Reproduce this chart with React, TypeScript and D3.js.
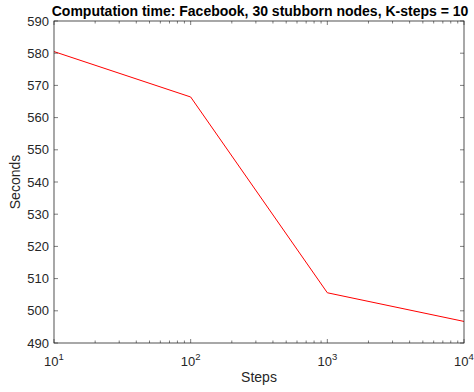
import React from "react";
import * as d3 from "d3";

const steps = [10, 100, 1000, 10000];
const seconds = [580.5, 566.4, 505.6, 496.7];
const yTicks = [490, 500, 510, 520, 530, 540, 550, 560, 570, 580, 590];
const xTickExps = [1, 2, 3, 4];
const title = "Computation time: Facebook, 30 stubborn nodes, K-steps = 10";

export default function App() {
  const W = 474, H = 392;
  const left = 54, right = 464, top = 21, bottom = 343;
  const x = d3.scaleLog().domain([10, 10000]).range([left, right]);
  const y = d3.scaleLinear().domain([490, 590]).range([bottom, top]);
  const line = d3.line<number>().x((_, i) => x(steps[i])).y((d) => y(d));
  const minor: number[] = [];
  for (let e = 1; e < 4; e++) for (let m = 2; m <= 9; m++) minor.push(m * Math.pow(10, e));
  const axisColor = "#262626";
  const font = "'Liberation Sans', Arial, Helvetica, sans-serif";
  const tk = 4, mtk = 2.5;
  return (
    <svg width={W} height={H} style={{ position: "absolute", left: 0, top: 0, background: "#fff" }} fontFamily={font}>
      <rect x={0} y={0} width={W} height={H} fill="#fff" />
      <path d={line(seconds) || ""} fill="none" stroke="#ff0000" strokeWidth={1} />
      {yTicks.map((t) => (
        <g key={t}>
          <line x1={left} x2={left + tk} y1={y(t)} y2={y(t)} stroke={axisColor} strokeWidth={0.6} />
          <line x1={right} x2={right - tk} y1={y(t)} y2={y(t)} stroke={axisColor} strokeWidth={0.6} />
          <text x={left - 5} y={y(t)} dy="0.35em" textAnchor="end" fontSize={13} fill={axisColor}>{t}</text>
        </g>
      ))}
      {xTickExps.map((e) => {
        const v = Math.pow(10, e);
        return (
          <g key={e}>
            <line x1={x(v)} x2={x(v)} y1={bottom} y2={bottom - tk} stroke={axisColor} strokeWidth={0.6} />
            <line x1={x(v)} x2={x(v)} y1={top} y2={top + tk} stroke={axisColor} strokeWidth={0.6} />
            <text x={x(v)} y={bottom + 23} textAnchor="middle" fontSize={13} fill={axisColor}>
              10<tspan dy={-6} fontSize={9.5}>{e}</tspan>
            </text>
          </g>
        );
      })}
      {minor.map((v) => (
        <g key={v}>
          <line x1={x(v)} x2={x(v)} y1={bottom} y2={bottom - mtk} stroke={axisColor} strokeWidth={0.6} />
          <line x1={x(v)} x2={x(v)} y1={top} y2={top + mtk} stroke={axisColor} strokeWidth={0.6} />
        </g>
      ))}
      <rect x={left} y={top} width={right - left} height={bottom - top} fill="none" stroke={axisColor} strokeWidth={0.8} />
      <text x={(left + right) / 2} y={382} textAnchor="middle" fontSize={14} fill={axisColor}>Steps</text>
      <text transform={`translate(20,${(top + bottom) / 2}) rotate(-90)`} textAnchor="middle" fontSize={14} fill={axisColor}>Seconds</text>
      <text x={(left + right) / 2 + 1} y={16} textAnchor="middle" fontSize={14} fontWeight="bold" fill="#000">{title}</text>
    </svg>
  );
}
